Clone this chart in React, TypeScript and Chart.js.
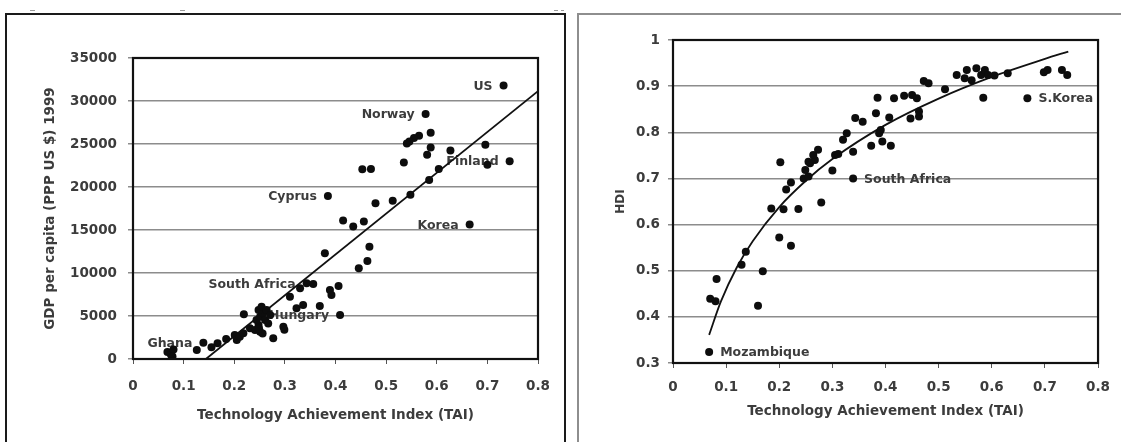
import React, { useEffect, useRef } from "react";
import { Chart, registerables } from "chart.js";

Chart.register(...registerables);

// ---------- Left chart: GDP per capita vs TAI ----------
const gdpTai = [
  0.732, 0.578, 0.588, 0.565, 0.555, 0.546, 0.541, 0.588, 0.581, 0.627, 0.696, 0.535, 0.744, 0.7, 0.604,
  0.453, 0.47, 0.585, 0.385, 0.548, 0.513, 0.479, 0.415, 0.435, 0.456, 0.665, 0.379, 0.467, 0.463, 0.446,
  0.343, 0.356, 0.33, 0.389, 0.406, 0.392, 0.31, 0.323, 0.336, 0.369, 0.409, 0.219, 0.231, 0.241, 0.248,
  0.244, 0.251, 0.257, 0.248, 0.254, 0.261, 0.267, 0.264, 0.271, 0.251, 0.277, 0.297, 0.299, 0.201, 0.205,
  0.211, 0.218, 0.184, 0.167, 0.155, 0.139, 0.126, 0.068, 0.075, 0.08, 0.078, 0.256, 0.249,
];
const gdpValues = [
  31800, 28500, 26300, 25950, 25700, 25300, 25050, 24600, 23750, 24250, 24900, 22850, 23000, 22600, 22100,
  22050, 22100, 20800, 18950, 19100, 18400, 18100, 16100, 15400, 16000, 15650, 12300, 13050, 11400, 10550,
  8800, 8720, 8220, 8020, 8490, 7440, 7240, 5890, 6280, 6160, 5120, 5200, 3570, 3370, 3950,
  4530, 4920, 5310, 5700, 6080, 4530, 4140, 5700, 5120, 3180, 2400, 3760, 3400, 2790, 2210,
  2590, 2990, 2330, 1820, 1360, 1900, 1050, 800, 500, 1100, 300, 2960, 3540,
];
const gdpTrendTai = [0.144, 0.8];
const gdpTrendValues = [0, 31150];
const gdpLabelNames = ["US", "Norway", "Finland", "Cyprus", "Korea", "South Africa", "Hungary", "Ghana"];
const gdpLabelTai = [0.732, 0.578, 0.744, 0.385, 0.665, 0.343, 0.409, 0.139];
const gdpLabelValues = [31800, 28500, 23000, 18950, 15650, 8800, 5120, 1900];

// ---------- Right chart: HDI vs TAI ----------
const hdiTai = [
  0.068, 0.07, 0.082, 0.08, 0.129, 0.137, 0.16, 0.169, 0.2, 0.222, 0.185, 0.208, 0.236, 0.279, 0.202,
  0.213, 0.222, 0.246, 0.255, 0.249, 0.258, 0.267, 0.255, 0.264, 0.273, 0.3, 0.339, 0.305, 0.311, 0.339,
  0.32, 0.327, 0.343, 0.357, 0.373, 0.394, 0.41, 0.388, 0.391, 0.382, 0.407, 0.385, 0.416, 0.435, 0.45,
  0.459, 0.447, 0.463, 0.463, 0.472, 0.481, 0.512, 0.534, 0.553, 0.549, 0.562, 0.571, 0.58, 0.587, 0.593,
  0.605, 0.63, 0.584, 0.667, 0.698, 0.705, 0.732, 0.742,
];
const hdiValues = [
  0.324, 0.439, 0.482, 0.434, 0.513, 0.541, 0.424, 0.499, 0.572, 0.554, 0.635, 0.633, 0.634, 0.648, 0.735,
  0.676, 0.691, 0.7, 0.704, 0.718, 0.733, 0.74, 0.736, 0.751, 0.762, 0.717, 0.7, 0.751, 0.753, 0.758,
  0.784, 0.798, 0.831, 0.823, 0.771, 0.78, 0.771, 0.798, 0.805, 0.841, 0.832, 0.875, 0.874, 0.879, 0.881,
  0.874, 0.83, 0.834, 0.845, 0.911, 0.906, 0.893, 0.924, 0.935, 0.917, 0.913, 0.939, 0.924, 0.935, 0.924,
  0.923, 0.928, 0.875, 0.874, 0.93, 0.935, 0.935, 0.924,
];
const hdiTrendTai = [0.068, 0.09, 0.12, 0.15, 0.2, 0.25, 0.3, 0.4, 0.5, 0.6, 0.7, 0.744];
const hdiTrendValues = [0.361, 0.433, 0.507, 0.564, 0.638, 0.695, 0.742, 0.816, 0.873, 0.92, 0.959, 0.975];
const hdiLabelNames = ["S.Korea", "South Africa", "Mozambique"];
const hdiLabelTai = [0.667, 0.339, 0.068];
const hdiLabelValues = [0.874, 0.7, 0.324];

const xAxisTitle = "Technology Achievement Index (TAI)";

// ---------- styles ----------
const FONT = "'DejaVu Sans', 'Liberation Sans', sans-serif";
const TEXT = "#3c3c3c";
const DOT = "#0d0d0d";

const fmt = (v: number) => String(Math.round(Number(v) * 10) / 10);

const boxPlugin = {
  id: "plotBox",
  afterDatasetsDraw(chart: any) {
    const { ctx, chartArea } = chart;
    const { left, top, right, bottom } = chartArea;
    ctx.save();
    ctx.strokeStyle = "#111";
    ctx.lineWidth = 2.2;
    ctx.strokeRect(left, top, right - left, bottom - top);
    ctx.restore();
  },
};

function labelPlugin(names: string[], xs: number[], ys: number[], side: "left" | "right", size: number) {
  return {
    id: "pointLabels",
    beforeDatasetsDraw(chart: any) {
      const { ctx, scales } = chart;
      ctx.save();
      ctx.font = `bold ${size}px ${FONT}`;
      ctx.fillStyle = TEXT;
      ctx.textBaseline = "middle";
      ctx.textAlign = side === "left" ? "right" : "left";
      names.forEach((n, i) => {
        const px = scales.x.getPixelForValue(xs[i]);
        const py = scales.y.getPixelForValue(ys[i]);
        ctx.fillText(n, side === "left" ? px - 11 : px + 11, py + 1);
      });
      ctx.restore();
    },
  };
}

type Spec = {
  width: number;
  height: number;
  pad: { top: number; right: number };
  yWidth: number;
  xHeight: number;
  xs: number[];
  ys: number[];
  tx: number[];
  ty: number[];
  curve: boolean;
  yMin: number;
  yMax: number;
  yStep: number;
  yFmt: (v: number) => string;
  yTitle: string;
  yTitleSize: number;
  yTitlePad: number;
  yTickPad: number;
  xTickPad: number;
  xTitlePad: number;
  plugins: any[];
};

function makeConfig(s: Spec): any {
  const tickFont = { family: FONT, size: 13.5, weight: "bold" as const };
  return {
    type: "scatter",
    data: {
      datasets: [
        {
          data: s.xs.map((x, i) => ({ x, y: s.ys[i] })),
          pointRadius: 4,
          pointBackgroundColor: DOT,
          pointBorderWidth: 0,
          showLine: false,
        },
        {
          data: s.tx.map((x, i) => ({ x, y: s.ty[i] })),
          showLine: true,
          pointRadius: 0,
          borderColor: "#111",
          borderWidth: 1.8,
          fill: false,
          cubicInterpolationMode: s.curve ? "monotone" : "default",
        },
      ],
    },
    options: {
      responsive: false,
      animation: false,
      events: [],
      layout: { padding: { left: 0, top: s.pad.top, right: s.pad.right, bottom: 0 } },
      plugins: { legend: { display: false }, tooltip: { enabled: false } },
      scales: {
        x: {
          type: "linear",
          min: 0,
          max: 0.8,
          ticks: { stepSize: 0.1, padding: s.xTickPad, color: TEXT, font: tickFont, callback: (v: any) => fmt(v) },
          grid: { drawOnChartArea: false, drawTicks: true, tickLength: 5, color: "#555", lineWidth: 1 },
          border: { display: false },
          title: {
            display: true,
            text: xAxisTitle,
            color: TEXT,
            font: { family: FONT, size: 13.5, weight: "bold" },
            padding: { top: 0, bottom: s.xTitlePad },
          },
          afterFit: (sc: any) => {
            sc.height = s.xHeight;
          },
        },
        y: {
          type: "linear",
          min: s.yMin,
          max: s.yMax,
          ticks: { stepSize: s.yStep, padding: s.yTickPad, color: TEXT, font: tickFont, callback: (v: any) => s.yFmt(v) },
          grid: { drawTicks: true, tickLength: 5, color: "#8c8c8c", lineWidth: 1.5 },
          border: { display: false },
          title: {
            display: true,
            text: s.yTitle,
            color: TEXT,
            font: { family: FONT, size: s.yTitleSize, weight: "bold" },
            padding: { top: s.yTitlePad, bottom: 0 },
          },
          afterFit: (sc: any) => {
            sc.width = s.yWidth;
          },
        },
      },
    },
    plugins: [boxPlugin, ...s.plugins],
  };
}

function ChartCanvas({ spec, left, top }: { spec: Spec; left: number; top: number }) {
  const ref = useRef<HTMLCanvasElement | null>(null);
  useEffect(() => {
    if (!ref.current) return;
    const chart = new Chart(ref.current, makeConfig(spec));
    return () => chart.destroy();
  }, []);
  return (
    <canvas
      ref={ref}
      width={spec.width}
      height={spec.height}
      style={{ position: "absolute", left, top, width: spec.width, height: spec.height }}
    />
  );
}

const leftSpec: Spec = {
  width: 557,
  height: 427,
  pad: { top: 43, right: 26 },
  yWidth: 126,
  xHeight: 83,
  xs: gdpTai,
  ys: gdpValues,
  tx: gdpTrendTai,
  ty: gdpTrendValues,
  curve: false,
  yMin: 0,
  yMax: 35000,
  yStep: 5000,
  yFmt: (v: number) => String(Math.round(Number(v))),
  yTitle: "GDP per capita (PPP US $) 1999",
  yTitleSize: 13.5,
  yTitlePad: 35.6,
  yTickPad: 11,
  xTickPad: 14,
  xTitlePad: 18,
  plugins: [labelPlugin(gdpLabelNames, gdpLabelTai, gdpLabelValues, "left", 12.5)],
};

const rightSpec: Spec = {
  width: 541,
  height: 426,
  pad: { top: 24, right: 18 },
  yWidth: 93,
  xHeight: 79,
  xs: hdiTai,
  ys: hdiValues,
  tx: hdiTrendTai,
  ty: hdiTrendValues,
  curve: true,
  yMin: 0.3,
  yMax: 1,
  yStep: 0.1,
  yFmt: fmt,
  yTitle: "HDI",
  yTitleSize: 12,
  yTitlePad: 33.8,
  yTickPad: 8,
  xTickPad: 11,
  xTitlePad: 22,
  plugins: [labelPlugin(hdiLabelNames, hdiLabelTai, hdiLabelValues, "right", 12.5)],
};

const mark = (left: number, width: number) => (
  <div style={{ position: "absolute", left, top: 10, width, height: 1, background: "#9a9a9a" }} />
);

export default function App() {
  return (
    <div
      style={{
        position: "absolute",
        left: 0,
        top: 0,
        width: 1121,
        height: 442,
        overflow: "hidden",
        background: "#fff",
      }}
    >
      {mark(30, 5)}
      {mark(180, 5)}
      {mark(554, 4)}
      {mark(561, 3)}
      <div
        style={{
          position: "absolute",
          left: 5,
          top: 13,
          width: 561,
          height: 520,
          boxSizing: "border-box",
          border: "2px solid #1a1a1a",
        }}
      />
      <div
        style={{
          position: "absolute",
          left: 577,
          top: 13,
          width: 620,
          height: 520,
          boxSizing: "border-box",
          border: "2px solid #8e8e8e",
        }}
      />
      <ChartCanvas spec={leftSpec} left={7} top={15} />
      <ChartCanvas spec={rightSpec} left={580} top={16} />
    </div>
  );
}
